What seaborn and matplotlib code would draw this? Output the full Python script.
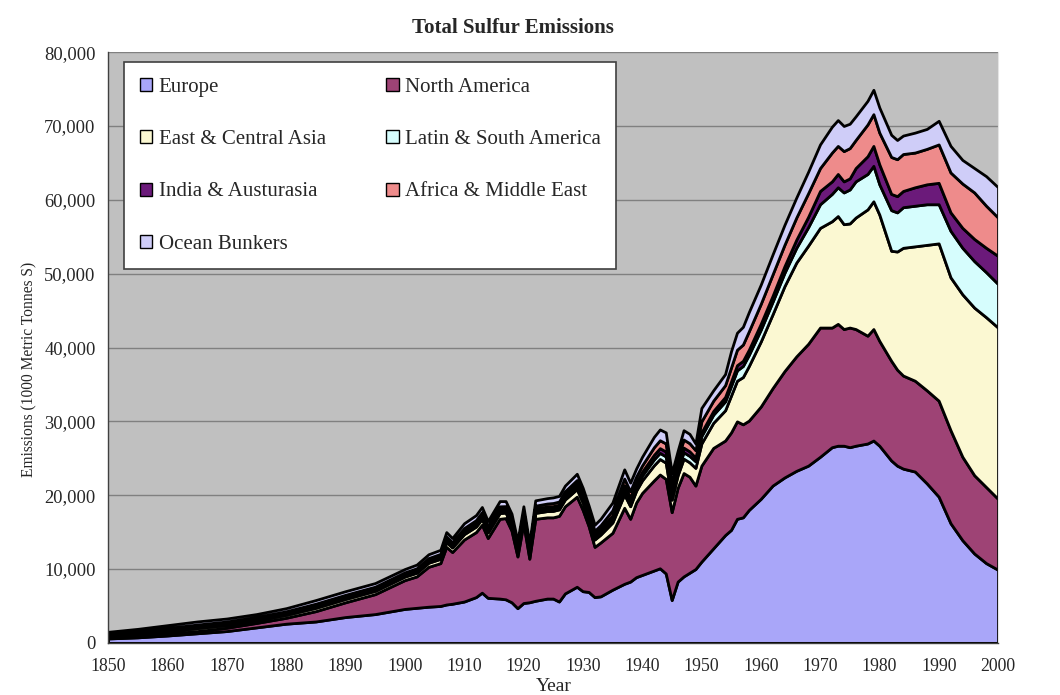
import pandas as pd
import seaborn as sns
from matplotlib import pyplot as plt
from matplotlib.ticker import FuncFormatter, MultipleLocator

years = [1850, 1855, 1860, 1865, 1870, 1875, 1880, 1885, 1890, 1895,
         1900, 1902, 1904, 1906, 1907, 1908, 1910, 1912, 1913, 1914,
         1916, 1917, 1918, 1919, 1920, 1921, 1922, 1924, 1925, 1926,
         1927, 1929, 1930, 1931, 1932, 1933, 1935, 1937, 1938, 1939,
         1940, 1942, 1943, 1944, 1945, 1946, 1947, 1948, 1949, 1950,
         1952, 1954, 1955, 1956, 1957, 1958, 1960, 1962, 1964, 1966,
         1968, 1970, 1972, 1973, 1974, 1975, 1976, 1978, 1979, 1980,
         1982, 1983, 1984, 1986, 1988, 1990, 1992, 1994, 1996, 1998, 2000]

europe = [600, 750, 1000, 1300, 1600, 2100, 2600, 2900, 3500, 3900,
          4600, 4750, 4900, 5000, 5200, 5300, 5600, 6200, 6800, 6100,
          6000, 5900, 5500, 4700, 5400, 5500, 5700, 6000, 6000, 5600,
          6700, 7600, 7000, 6900, 6200, 6300, 7200, 8000, 8300, 8900,
          9200, 9800, 10100, 9400, 5800, 8300, 9000, 9500, 10000, 11000,
          12800, 14600, 15300, 16800, 17000, 18000, 19500, 21300, 22400, 23300,
          24000, 25200, 26500, 26700, 26700, 26500, 26700, 27000, 27400, 26700,
          24700, 24000, 23600, 23200, 21600, 19800, 16200, 13900, 12100, 10800, 9900]

north_america = [100, 200, 250, 300, 450, 600, 800, 1400, 2000, 2700,
                 3900, 4250, 5400, 5800, 7800, 7000, 8400, 8800, 9200, 8100,
                 10800, 11000, 9700, 7000, 10800, 5900, 11100, 11000, 11000, 11600,
                 11800, 12200, 11000, 8900, 6800, 7300, 7700, 10300, 8500, 10100,
                 11100, 12200, 12700, 12800, 11900, 12700, 14000, 13000, 11300, 13000,
                 13600, 12800, 13200, 13200, 12600, 12100, 12500, 13200, 14400, 15500,
                 16500, 17500, 16200, 16500, 15800, 16200, 15800, 14600, 15100, 14200,
                 13500, 13000, 12600, 12300, 12600, 13000, 12600, 11300, 10600, 10300, 9600]

east_asia = [250, 300, 350, 400, 380, 370, 400, 450, 450, 450,
             480, 500, 550, 580, 650, 620, 720, 750, 780, 750,
             780, 750, 750, 680, 750, 680, 800, 850, 880, 880,
             920, 1020, 1000, 930, 1000, 1060, 1400, 1800, 1700, 1600,
             1700, 2050, 2100, 2200, 1700, 1700, 1950, 1950, 2400, 3000,
             3400, 4100, 5000, 5500, 6400, 7400, 8800, 10000, 11500, 12700,
             13300, 13500, 14400, 14600, 14200, 14100, 15100, 17100, 17300, 17100,
             14900, 16000, 17300, 18200, 19700, 21300, 20700, 22000, 22700, 23000, 23200]

latin_america = [100, 120, 150, 160, 160, 150, 160, 180, 180, 180,
                 190, 200, 210, 220, 250, 240, 280, 290, 300, 290,
                 300, 290, 290, 260, 290, 260, 330, 340, 350, 350,
                 370, 400, 390, 360, 390, 420, 550, 700, 660, 620,
                 660, 800, 830, 850, 800, 750, 870, 870, 900, 1000,
                 1100, 1200, 1300, 1400, 1500, 1500, 1600, 1700, 1800, 2000,
                 2500, 3200, 3700, 3900, 4300, 4600, 4900, 4800, 4800, 4100,
                 5500, 5300, 5500, 5500, 5500, 5300, 6300, 6300, 6300, 6100, 5900]

india = [100, 110, 130, 150, 150, 140, 150, 180, 180, 180,
         180, 190, 200, 210, 220, 210, 240, 250, 260, 250,
         260, 250, 250, 230, 250, 230, 270, 280, 290, 290,
         300, 330, 320, 300, 320, 340, 430, 550, 520, 490,
         520, 620, 640, 660, 560, 530, 620, 620, 500, 500,
         500, 600, 600, 700, 700, 700, 800, 800, 900, 1100,
         1400, 1800, 1700, 1800, 1500, 1500, 1800, 2400, 2700, 2700,
         2200, 2200, 2200, 2500, 2700, 2900, 2500, 2700, 3000, 3300, 3800]

africa = [100, 120, 150, 170, 160, 160, 170, 200, 200, 200,
          200, 210, 220, 240, 280, 260, 310, 330, 350, 330,
          350, 330, 330, 300, 330, 300, 380, 400, 420, 420,
          440, 500, 480, 450, 480, 520, 680, 900, 850, 800,
          850, 1030, 1070, 1100, 1000, 950, 1100, 1100, 1000, 1500,
          1400, 1600, 1900, 2100, 2200, 2500, 2700, 2900, 2900, 3000,
          3200, 3100, 3900, 3800, 4100, 4100, 3800, 4300, 4300, 4300,
          5000, 5000, 5000, 4700, 4800, 5200, 5400, 6000, 6300, 5700, 5200]

ocean = [250, 300, 370, 420, 400, 380, 420, 490, 490, 490,
         450, 500, 520, 550, 600, 570, 650, 680, 710, 680,
         710, 680, 680, 630, 680, 630, 720, 730, 760, 760,
         770, 850, 810, 760, 810, 860, 1040, 1250, 1170, 1090,
         1170, 1400, 1460, 1490, 1240, 1070, 1260, 1260, 900, 1800,
         1400, 1500, 2200, 2300, 2400, 2600, 2600, 2700, 2700, 2700,
         2900, 3200, 3500, 3500, 3400, 3300, 3200, 3200, 3300, 3400,
         3000, 2600, 2500, 2700, 2700, 3200, 3600, 3200, 3300, 4000, 4100]

regions = ["Europe", "North America", "East & Central Asia",
           "Latin & South America", "India & Austurasia",
           "Africa & Middle East", "Ocean Bunkers"]
colors = ["#a9a6f9", "#9e4375", "#fbf8d2", "#d6fdfd",
          "#6b1a7a", "#ee8b8b", "#cfcdf8"]

df = pd.DataFrame({
    regions[0]: europe, regions[1]: north_america, regions[2]: east_asia,
    regions[3]: latin_america, regions[4]: india, regions[5]: africa,
    regions[6]: ocean}, index=years)

sns.set_style("white")
plt.rcParams['font.family'] = ['Liberation Serif', 'DejaVu Serif']

fig = plt.figure(figsize=(10.6, 6.95), dpi=100)
ax = fig.add_axes([0.102, 0.075, 0.8395, 0.85])
ax.set_facecolor("#c0c0c0")

ax.stackplot(df.index, df.T.values, labels=regions, colors=colors,
             edgecolor="black", linewidth=2.0)

ax.set_xlim(1850, 2000)
ax.set_ylim(0, 80000)
ax.xaxis.set_major_locator(MultipleLocator(10))
ax.xaxis.set_minor_locator(MultipleLocator(1))
ax.yaxis.set_major_locator(MultipleLocator(10000))
ax.yaxis.set_major_formatter(FuncFormatter(lambda v, p: f"{int(v):,}"))
ax.yaxis.grid(True, color="#808080", linewidth=1)
ax.xaxis.grid(False)
ax.set_axisbelow(True)

ax.tick_params(axis="x", which="major", direction="out", length=5,
               width=1, color="#404040", labelsize=12.8, pad=6)
ax.tick_params(axis="x", which="minor", direction="out", length=3,
               width=0.8, color="#404040")
ax.tick_params(axis="y", direction="out", length=5, width=1,
               color="#404040", labelsize=13.3, pad=4)

for side in ["left", "bottom"]:
    ax.spines[side].set_color("#404040")
    ax.spines[side].set_linewidth(1)
ax.spines["top"].set_visible(False)
ax.spines["right"].set_color("#e4e4e4")

handles, labels = ax.get_legend_handles_labels()
order = [0, 2, 4, 6, 1, 3, 5]
leg = ax.legend([handles[i] for i in order], [labels[i] for i in order],
                ncol=2, loc="upper left", bbox_to_anchor=(0.018, 0.983),
                frameon=True, fancybox=False, facecolor="white",
                edgecolor="#404040", framealpha=1, fontsize=15,
                labelspacing=1.6, handlelength=0.6, handleheight=0.6,
                handletextpad=0.3, columnspacing=2.9, borderpad=0.75,
                borderaxespad=0)
leg.get_frame().set_linewidth(1.2)
for h in leg.legend_handles:
    h.set_linewidth(1)

fig.text(0.484, 0.96, "Total Sulfur Emissions", ha="center", va="center",
         fontsize=15, fontweight="bold")
fig.text(0.028, 0.468, "Emissions (1000 Metric Tonnes S)", rotation=90,
         ha="center", va="center", fontsize=11.2)
fig.text(0.522, 0.012, "Year", ha="center", va="center", fontsize=14)

plt.savefig("out.png", dpi=100, facecolor="white")
